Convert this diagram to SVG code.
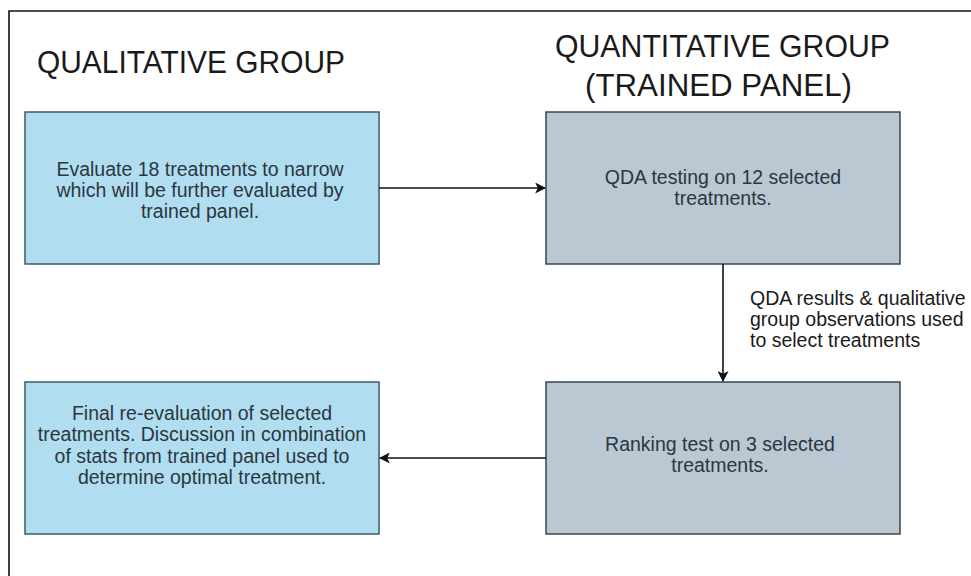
<svg xmlns="http://www.w3.org/2000/svg" width="971" height="576" viewBox="0 0 971 576">
<style>
.title{font-family:"Liberation Sans",Arial,sans-serif;font-size:32px;fill:#1a1a1a}
.lbl{font-family:"Liberation Sans",Arial,sans-serif;font-size:19.5px;fill:#2b3640;text-anchor:middle}
.note{font-family:"Liberation Sans",Arial,sans-serif;font-size:19.5px;fill:#1a1a1a}
.blue{fill:#b1ddf0;stroke:#3f5a68;stroke-width:1.5}
.grey{fill:#bac8d3;stroke:#3a4650;stroke-width:1.5}
.conn{stroke:#111;stroke-width:1.6;fill:none;marker-end:url(#arr)}
</style>
<defs>
<marker id="arr" viewBox="0 0 10 10" refX="9" refY="5" markerWidth="11" markerHeight="11" markerUnits="userSpaceOnUse" orient="auto">
<path d="M0,0 L10,5 L0,10 L2.5,5 Z" fill="#111"/>
</marker>
</defs>
<rect x="0" y="0" width="971" height="576" fill="#fff"/>
<path d="M9,576 L9,11 L971,11" fill="none" stroke="#111" stroke-width="1.6"/>
<text class="title" x="37" y="73" textLength="308" lengthAdjust="spacingAndGlyphs">QUALITATIVE GROUP</text>
<text class="title" x="555" y="57" textLength="335" lengthAdjust="spacingAndGlyphs">QUANTITATIVE GROUP</text>
<text class="title" x="585" y="96" textLength="267" lengthAdjust="spacingAndGlyphs">(TRAINED PANEL)</text>
<g id="n1">
<rect class="blue" x="25" y="112" width="354" height="152"/>
<text class="lbl" x="200" y="176">Evaluate 18 treatments to narrow</text>
<text class="lbl" x="200" y="197">which will be further evaluated by</text>
<text class="lbl" x="200" y="218">trained panel.</text>
</g>
<g id="n2">
<rect class="grey" x="546" y="112" width="354" height="152"/>
<text class="lbl" x="723" y="184">QDA testing on 12 selected</text>
<text class="lbl" x="723" y="205">treatments.</text>
</g>
<g id="n3">
<rect class="blue" x="25" y="382" width="354" height="152"/>
<text class="lbl" x="202" y="420">Final re-evaluation of selected</text>
<text class="lbl" x="202" y="441">treatments. Discussion in combination</text>
<text class="lbl" x="202" y="463">of stats from trained panel used to</text>
<text class="lbl" x="202" y="484">determine optimal treatment.</text>
</g>
<g id="n4">
<rect class="grey" x="546" y="382" width="354" height="152"/>
<text class="lbl" x="720" y="451">Ranking test on 3 selected</text>
<text class="lbl" x="720" y="472">treatments.</text>
</g>
<g id="connectors">
<line class="conn" x1="379" y1="188" x2="545" y2="188"/>
<line class="conn" x1="723" y1="264" x2="723" y2="381"/>
<line class="conn" x1="546" y1="458" x2="380" y2="458"/>
<text class="note" x="750" y="305">QDA results &amp; qualitative</text>
<text class="note" x="750" y="326">group observations used</text>
<text class="note" x="750" y="347">to select treatments</text>
</g>
</svg>
